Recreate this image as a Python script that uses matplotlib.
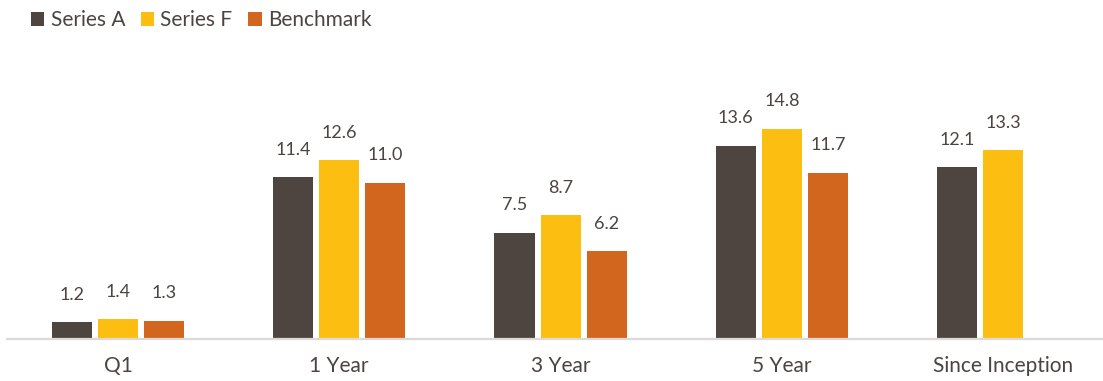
import numpy as np
import matplotlib.pyplot as plt

plt.rcParams['font.family'] = ['Lato', 'DejaVu Sans']

categories = ['Q1', '1 Year', '3 Year', '5 Year', 'Since Inception']
series_names = ['Series A', 'Series F', 'Benchmark']
series_a = [1.2, 11.4, 7.5, 13.6, 12.1]
series_f = [1.4, 12.6, 8.7, 14.8, 13.3]
benchmark = [1.3, 11.0, 6.2, 11.7, None]
colors = ['#4E4540', '#FDBE12', '#D2661E']
text_color = '#4B4440'

fig = plt.figure(figsize=(11.03, 3.81), dpi=100)
# axes runs slightly past the right edge so the last group sits where it should
ax = fig.add_axes([7.3 / 1103, 42 / 381, 1106.5 / 1103, 240 / 381])

x = np.arange(len(categories))
width = 0.181
step = 0.208

handles = []
for i, (vals, color) in enumerate(zip([series_a, series_f, benchmark], colors)):
    xs = [xi + (i - 1) * step for xi, v in zip(x, vals) if v is not None]
    vs = [v for v in vals if v is not None]
    bars = ax.bar(xs, vs, width=width, color=color, zorder=2)
    handles.append(bars)
    for xi, v in zip(xs, vs):
        ax.annotate(f'{v:.1f}', (xi, v), xytext=(0, 14), textcoords='offset points',
                    ha='center', va='bottom', fontsize=13, color=text_color)

ax.set_xlim(-0.5, 4.5)
ax.set_ylim(0, 240 / 14.2)
ax.set_xticks(x)
ax.set_xticklabels(categories, fontsize=15, color=text_color)
ax.tick_params(axis='x', length=0, pad=12)
ax.set_yticks([])
for side in ['top', 'right', 'left']:
    ax.spines[side].set_visible(False)
ax.spines['bottom'].set_color('#DCDAD8')
ax.spines['bottom'].set_linewidth(1.6)

fig.legend(handles, series_names, loc='upper left', bbox_to_anchor=(12 / 1103, 1.022),
           ncol=3, frameon=False, fontsize=15, labelcolor=text_color,
           handlelength=0.65, handleheight=0.65, handletextpad=0.3, columnspacing=0.75)

fig.savefig('out.png', dpi=100)
